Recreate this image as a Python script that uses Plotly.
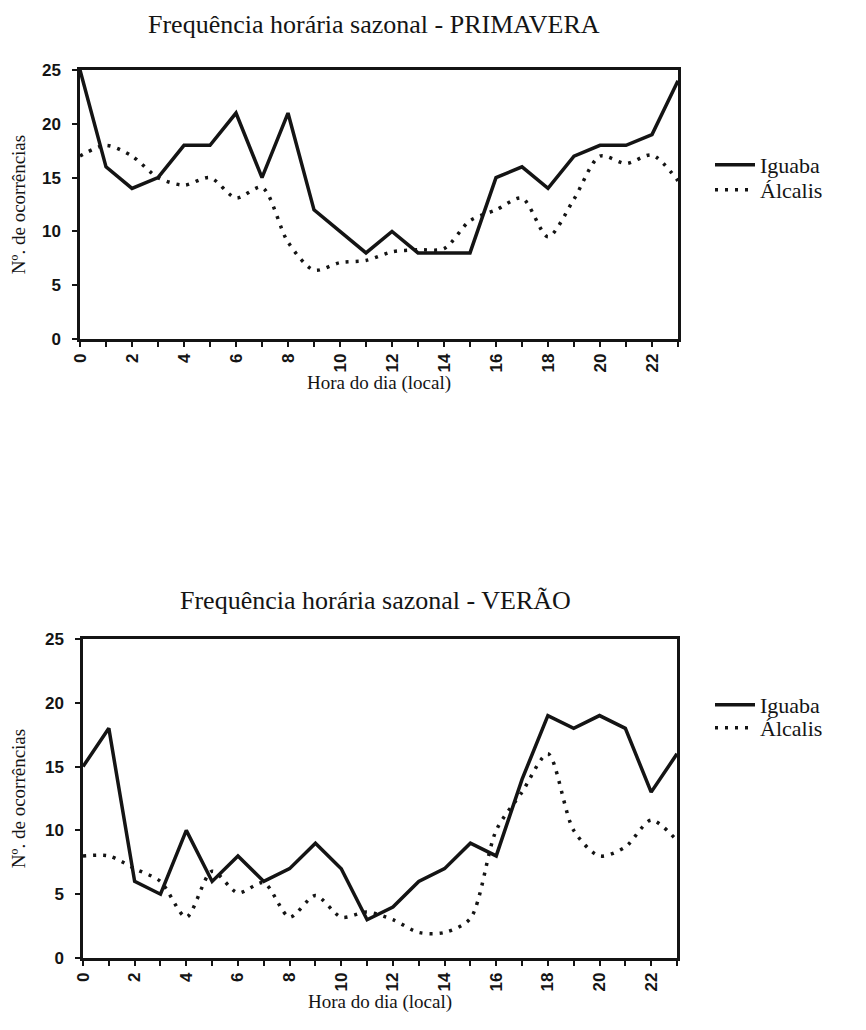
import plotly.graph_objects as go

hours = list(range(24))
x_tick_vals = list(range(0, 24, 2))
y_tick_vals = [0, 5, 10, 15, 20, 25]

prim_iguaba = [25, 16, 14, 15, 18, 18, 21, 15, 21, 12, 10, 8, 10, 8, 8, 8, 15, 16, 14, 17, 18, 18, 19, 24]
prim_alcalis = [17, 18, 17, 15, 14.3, 15, 13.1, 14.1, 9, 6.4, 7.1, 7.3, 8.1, 8.3, 8.4, 11, 12, 13.1, 9.5, 13, 17, 16.3, 17.1, 14.7]

verao_iguaba = [15, 18, 6, 5, 10, 6, 8, 6, 7, 9, 7, 3, 4, 6, 7, 9, 8, 14, 19, 18, 19, 18, 13, 16]
verao_alcalis = [8, 8, 7, 6, 3.2, 6.8, 5.1, 5.9, 3.2, 4.9, 3.2, 3.6, 3, 2, 2, 3.1, 10, 13, 16, 10, 8, 8.7, 10.8, 9.2]

titles = ["Frequência horária sazonal - PRIMAVERA", "Frequência horária sazonal - VERÃO"]
series_names = ["Iguaba", "Álcalis"]
x_title = "Hora do dia (local)"
y_title = "Nº. de ocorrências"

# page body has an 8px margin; figure fills the rest of the 866x1030 window
OFF = 8
W, H = 866 - 2 * OFF, 1030 - 2 * OFF
serif = "Liberation Serif, Times New Roman, serif"
sans = "Liberation Sans, Arial, sans-serif"
ink = "#141414"


def px(x):
    return (x - OFF) / W


def py(y):
    return 1 - (y - OFF) / H


fig = go.Figure()

panels = [
    dict(ig=prim_iguaba, al=prim_alcalis, xa="x", ya="y", top=70, bot=339, l=80, r=678,
         title_y=25, leg_y=(165, 190), legs=("legend", "legend2")),
    dict(ig=verao_iguaba, al=verao_alcalis, xa="x2", ya="y2", top=639, bot=958, l=83, r=677,
         title_y=600, leg_y=(705, 728), legs=("legend3", "legend4")),
]

layout = dict(
    width=W, height=H,
    margin=dict(l=0, r=0, t=0, b=0, autoexpand=False),
    paper_bgcolor="white", plot_bgcolor="white",
    showlegend=True,
    annotations=[],
)

for i, p in enumerate(panels):
    fig.add_trace(go.Scatter(x=hours, y=p["ig"], mode="lines", name=series_names[0],
                             line=dict(color=ink, width=3.5), xaxis=p["xa"], yaxis=p["ya"],
                             legend=p["legs"][0]))
    fig.add_trace(go.Scatter(x=hours, y=p["al"], mode="lines", name=series_names[1],
                             line=dict(color=ink, width=3.5, dash="3px,7px", shape="spline", smoothing=0.8),
                             xaxis=p["xa"], yaxis=p["ya"], legend=p["legs"][1]))

    sfx = "" if i == 0 else "2"
    layout["xaxis" + sfx] = dict(
        domain=[px(p["l"]), px(p["r"])], range=[0, 23], anchor="y" + sfx, automargin=False,
        tickvals=x_tick_vals, ticktext=[str(v) for v in x_tick_vals],
        tickangle=-90, ticks="outside", ticklen=5, tickwidth=1.5, tickcolor=ink,
        tickfont=dict(family=sans, size=17, color=ink, weight="bold"),
        minor=dict(dtick=1, tick0=0, ticks="outside", ticklen=5, tickwidth=1.5, tickcolor=ink),
        showline=True, linecolor=ink, linewidth=2.5, mirror=True, showgrid=False, zeroline=False,
        title=dict(text=x_title, font=dict(family=serif, size=19, color=ink), standoff=3),
    )
    layout["yaxis" + sfx] = dict(
        domain=[py(p["bot"]), py(p["top"])], range=[0, 25], anchor="x" + sfx, automargin=False,
        tickvals=y_tick_vals, ticks="outside", ticklen=5, tickwidth=1.5, tickcolor=ink,
        ticklabelstandoff=8,
        tickfont=dict(family=sans, size=17, color=ink, weight="bold"),
        showline=True, linecolor=ink, linewidth=2.5, mirror=True, showgrid=False, zeroline=False,
        title=dict(text=y_title, font=dict(family=serif, size=19, color=ink), standoff=16),
    )
    layout["annotations"].append(dict(
        text=titles[i], x=px((p["l"] + p["r"]) / 2 - 5), y=py(p["title_y"]),
        xref="paper", yref="paper", xanchor="center", yanchor="middle", showarrow=False,
        font=dict(family=serif, size=26, color=ink)))
    for lg, ly in zip(p["legs"], p["leg_y"]):
        layout[lg] = dict(
            x=px(710), y=py(ly), xanchor="left", yanchor="middle",
            font=dict(family=serif, size=22, color=ink), bgcolor="rgba(0,0,0,0)",
            tracegroupgap=0, itemwidth=40,
        )

fig.update_layout(**layout)
fig.write_html("out.html")
